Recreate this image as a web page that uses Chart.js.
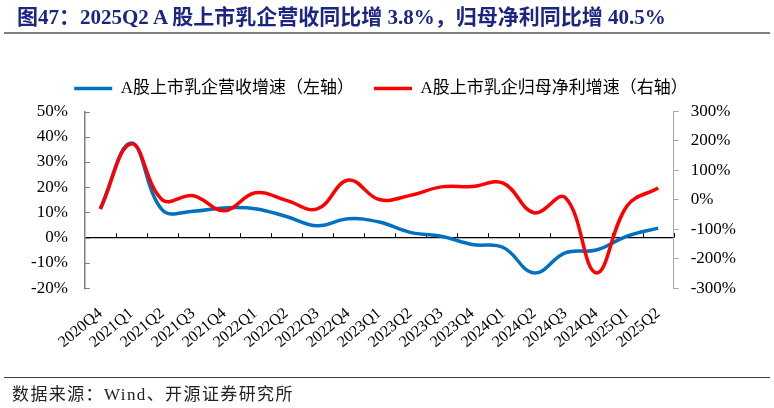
<!DOCTYPE html>
<html>
<head>
<meta charset="utf-8">
<script src="https://cdn.jsdelivr.net/npm/chart.js@4.4.1/dist/chart.umd.min.js"></script>
<style>
html, body { margin: 0; padding: 0; background: #fff; }
body { width: 774px; height: 408px; position: relative; overflow: hidden; font-family: "Liberation Serif", "Noto Sans CJK SC", serif; }
#wrap { position: absolute; left: 0; top: 0; width: 774px; height: 408px; }
#title { position: absolute; left: 17px; top: 5px; font-size: 21px; font-weight: bold; color: #1c2584; white-space: nowrap; line-height: 24px; }
#rule1 { position: absolute; left: 4px; width: 766px; top: 32px; border-top: 2px solid #808080; }
#rule2 { position: absolute; left: 4px; width: 766px; top: 377px; border-top: 1.5px solid #404040; }
#source { position: absolute; left: 12px; top: 385px; font-size: 17px; letter-spacing: 1.4px; color: #222; line-height: 20px; white-space: nowrap; }
</style>
</head>
<body>
<div id="wrap"><canvas id="chart"></canvas></div>
<div id="title">图47：2025Q2 A 股上市乳企营收同比增 3.8%，归母净利同比增 40.5%</div>
<div id="rule1"></div>
<div id="rule2"></div>
<div id="source">数据来源：Wind、开源证券研究所</div>
<script>
// quarters on the x axis
const quarters = ["2020Q4", "2021Q1", "2021Q2", "2021Q3", "2021Q4", "2022Q1", "2022Q2", "2022Q3", "2022Q4",
	"2023Q1", "2023Q2", "2023Q3", "2023Q4", "2024Q1", "2024Q2", "2024Q3", "2024Q4", "2025Q1", "2025Q2"];

// revenue growth, % (left axis)
const revenueGrowth = [11.5, 37.5, 11, 10.5, 11.8, 11.5, 8.4, 4.7, 7.5, 6.2, 2.1, 0.6, -2.7, -3.9, -14, -6, -4.9, 0.6, 3.8];

// net profit growth, % (right axis)
const profitGrowth = [-31, 190, 0, 14, -37, 24, -2, -31, 67, 1, 15, 44, 45, 57, -44, 8, -248, -20, 40.5];

const revenueLabel = "A股上市乳企营收增速（左轴）";
const profitLabel = "A股上市乳企归母净利增速（右轴）";

const blue = "#0070c0";
const red = "#ff0000";
const fontFamily = '"Liberation Serif", "Noto Sans CJK SC", serif';

// a little extra room under the legend
const legendGap = {
	id: "legendGap",
	afterInit(chart) {
		const fit = chart.legend.fit;
		chart.legend.fit = function () {
			fit.call(this);
			this.height += 4.5;
		};
	}
};

// inward ticks on the left axis and on the zero line
const innerTicks = {
	id: "innerTicks",
	beforeDatasetsDraw(chart) {
		const { ctx, scales: { x, y } } = chart;
		ctx.save();
		ctx.lineWidth = 1;
		ctx.strokeStyle = "#808080";
		y.ticks.forEach(t => {
			const py = Math.round(y.getPixelForValue(t.value)) + 0.5;
			ctx.beginPath();
			ctx.moveTo(x.left, py);
			ctx.lineTo(x.left + 5, py);
			ctx.stroke();
		});
		ctx.strokeStyle = "#000";
		const y0 = y.getPixelForValue(0);
		const half = (x.getPixelForValue(1) - x.getPixelForValue(0)) / 2;
		for (let i = 1; i <= quarters.length; i++) {
			const px = Math.round(x.getPixelForValue(i) - half) + 0.5;
			ctx.beginPath();
			ctx.moveTo(px, y0);
			ctx.lineTo(px, y0 - 4.5);
			ctx.stroke();
		}
		ctx.restore();
	}
};

new Chart("chart", {
	type: "line",
	data: {
		labels: quarters,
		datasets: [
			{
				label: revenueLabel,
				data: revenueGrowth,
				borderColor: blue,
				backgroundColor: blue,
				borderWidth: 3.5,
				pointRadius: 0,
				tension: 0.4,
				yAxisID: "y",
				order: 2
			},
			{
				label: profitLabel,
				data: profitGrowth,
				borderColor: red,
				backgroundColor: red,
				borderWidth: 3.5,
				pointRadius: 0,
				tension: 0.4,
				yAxisID: "y1",
				order: 1
			}
		]
	},
	options: {
		responsive: true,
		maintainAspectRatio: false,
		animation: false,
		layout: { padding: { left: 14, right: 26, top: 60, bottom: 48 } },
		plugins: {
			legend: {
				position: "top",
				align: "center",
				labels: {
					usePointStyle: true,
					pointStyle: "line",
					pointStyleWidth: 38,
					padding: 20,
					color: "#000",
					font: { family: fontFamily, size: 17 },
					sort: (a, b) => a.datasetIndex - b.datasetIndex
				}
			},
			tooltip: { enabled: false }
		},
		scales: {
			x: {
				offset: true,
				grid: { display: false },
				border: { display: false },
				ticks: {
					autoSkip: false,
					maxRotation: 40,
					minRotation: 40,
					padding: 8,
					color: "#000",
					font: { family: fontFamily, size: 16 }
				}
			},
			y: {
				position: "left",
				min: -20,
				max: 50,
				ticks: {
					stepSize: 10,
					autoSkip: false,
					padding: 17,
					color: "#000",
					font: { family: fontFamily, size: 17 },
					callback: v => v + "%"
				},
				grid: {
					drawTicks: false,
					lineWidth: 1.3,
					color: c => (c.tick && c.tick.value === 0 ? "#000" : "rgba(0,0,0,0)")
				},
				border: { display: true, color: "#808080", width: 1.5 }
			},
			y1: {
				position: "right",
				min: -300,
				max: 300,
				ticks: {
					stepSize: 100,
					autoSkip: false,
					padding: 12,
					color: "#000",
					font: { family: fontFamily, size: 17 },
					callback: v => v + "%"
				},
				grid: { drawOnChartArea: false, tickLength: 5, color: "#a6a6a6" },
				border: { display: true, color: "#a6a6a6", width: 1 }
			}
		}
	},
	plugins: [legendGap, innerTicks]
});
</script>
</body>
</html>
